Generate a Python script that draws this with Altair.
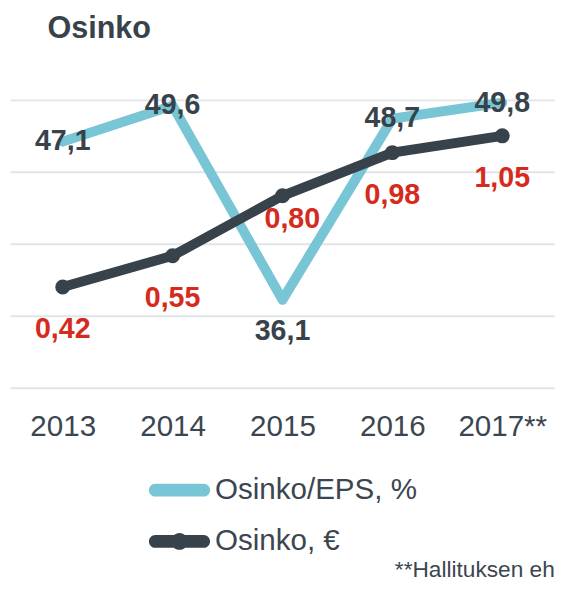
import altair as alt
import pandas as pd

# ---- data ----
years = ["2013", "2014", "2015", "2016", "2017**"]
eps_pct = [47.1, 49.6, 36.1, 48.7, 49.8]
dividend_eur = [0.42, 0.55, 0.80, 0.98, 1.05]
series = ["Osinko/EPS, %", "Osinko, €"]
grid_values = [30, 35, 40, 45, 50]
title_text = "Osinko"
footnote = "**Hallituksen ehdotus"

# ---- styles ----
BLUE = "#77c5d5"
DARK = "#37424a"
RED = "#d52b1e"
GREY_TXT = "#3c4650"
GRID = "#e1e4e8"
FONT = "Liberation Sans"

# legend symbols (rounded bar, rounded bar with dot)
BAR = "M-4.9,-1.3H4.9A1.3,1.3,0,0,1,4.9,1.3H-4.9A1.3,1.3,0,0,1,-4.9,-1.3Z"
DOT = "M1.7,0A1.7,1.7,0,1,1,-1.7,0A1.7,1.7,0,1,1,1.7,0Z"

df = pd.DataFrame({"year": years, "eps": eps_pct, "eur": dividend_eur})
legend_df = pd.DataFrame({"series": series})

x_enc = alt.X(
    "year:N", sort=years,
    scale=alt.Scale(type="point", padding=0.48, align=0.5),
    axis=alt.Axis(
        title=footnote, titleFont=FONT, titleFontSize=23, titleFontWeight="normal",
        titleColor=GREY_TXT, titleAnchor="start", titleAlign="left",
        titleBaseline="alphabetic", titleX=390, titleY=192,
        domain=False, ticks=False, tickSize=0, grid=False, labelAngle=0,
        labelFont=FONT, labelFontSize=30, labelColor=GREY_TXT, labelPadding=25,
    ),
)

eps_scale = alt.Scale(domain=[30, 50], nice=False, zero=False)
eur_scale = alt.Scale(domain=[0, 1.2], nice=False, zero=False)

y_eps = alt.Y("eps:Q", scale=eps_scale, axis=alt.Axis(
    title=None, labels=False, ticks=False, domain=False, grid=True,
    gridColor=GRID, gridWidth=2, values=grid_values))
y_eur = alt.Y("eur:Q", scale=eur_scale, axis=None)

base = alt.Chart(df)

blue_line = base.mark_line(
    color=BLUE, strokeWidth=10, strokeCap="round", strokeJoin="round"
).encode(x=x_enc, y=y_eps)

eps_txt = base.transform_calculate(lbl="replace(format(datum.eps, '.1f'), '.', ',')")
txt_style = dict(font=FONT, fontSize=29, fontWeight="bold", baseline="middle", align="center")
blue_lbl = eps_txt.transform_filter("datum.eps >= 40").mark_text(
    color=DARK, dy=0, **txt_style).encode(x=x_enc, y=y_eps, text="lbl:N")
blue_lbl_low = eps_txt.transform_filter("datum.eps < 40").mark_text(
    color=DARK, dy=32, **txt_style).encode(x=x_enc, y=y_eps, text="lbl:N")

blue = alt.layer(blue_line, blue_lbl, blue_lbl_low)

dark_line = base.mark_line(
    color=DARK, strokeWidth=10, strokeCap="round", strokeJoin="round"
).encode(x=x_enc, y=y_eur)
dark_pts = base.mark_circle(color=DARK, size=230, opacity=1).encode(x=x_enc, y=y_eur)
eur_txt = base.transform_calculate(lbl="replace(format(datum.eur, '.2f'), '.', ',')")
red_lbl = eur_txt.transform_filter("datum.year != '2015'").mark_text(
    color=RED, dy=43, **txt_style).encode(x=x_enc, y=y_eur, text="lbl:N")
red_lbl_mid = eur_txt.transform_filter("datum.year == '2015'").mark_text(
    color=RED, dy=24, dx=10, **txt_style).encode(x=x_enc, y=y_eur, text="lbl:N")

dark = alt.layer(dark_line, dark_pts, red_lbl, red_lbl_mid)

leg_props = dict(
    title=None, orient="none", legendX=157, legendY=381, direction="vertical",
    labelFont=FONT, labelFontSize=30, labelColor=GREY_TXT, labelOffset=21,
    symbolSize=100, symbolStrokeWidth=0, symbolOpacity=1, rowPadding=22, padding=0,
    labelLimit=400,
)
legend_layer = alt.Chart(legend_df).mark_point(filled=True, opacity=0).encode(
    color=alt.Color("series:N", sort=series,
                    scale=alt.Scale(domain=series, range=[BLUE, DARK]),
                    legend=alt.Legend(**leg_props)),
    shape=alt.Shape("series:N", sort=series,
                    scale=alt.Scale(domain=series, range=[BAR, BAR + DOT]),
                    legend=alt.Legend(**leg_props)),
)

chart = alt.layer(blue, dark, legend_layer).resolve_scale(y="independent").properties(
    width=553, height=292,
    autosize=alt.AutoSizeParams(type="none"),
    padding={"left": 2, "top": 89, "right": 0, "bottom": 195},
    title=alt.TitleParams(
        title_text, anchor="start", frame="group", font=FONT, fontSize=31,
        fontWeight="bold", color=DARK, dx=38, offset=21, baseline="alphabetic",
    ),
).configure(background="white").configure_view(stroke=None)

chart.save("out.html", embed_options={"renderer": "svg", "actions": False})
